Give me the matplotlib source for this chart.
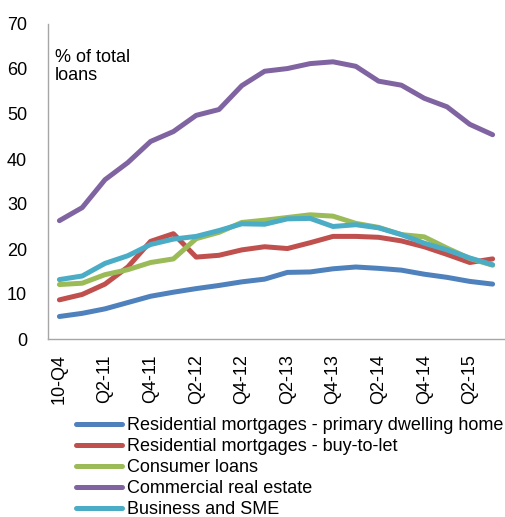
import matplotlib
matplotlib.use("Agg")
import matplotlib.pyplot as plt
import numpy as np

plt.rcParams['font.family'] = ['Liberation Sans', 'DejaVu Sans']

quarters = ["10-Q4", "11-Q1", "Q2-11", "11-Q3", "Q4-11", "12-Q1", "Q2-12", "12-Q3",
            "Q4-12", "13-Q1", "Q2-13", "13-Q3", "Q4-13", "14-Q1", "Q2-14", "14-Q3",
            "Q4-14", "15-Q1", "Q2-15", "15-Q3"]
tick_labels = ["10-Q4", "Q2-11", "Q4-11", "Q2-12", "Q4-12", "Q2-13", "Q4-13", "Q2-14", "Q4-14", "Q2-15"]

primary_dwelling = [5.0, 5.7, 6.7, 8.1, 9.5, 10.4, 11.2, 11.9, 12.7, 13.3,
                    14.8, 14.9, 15.6, 16.0, 15.7, 15.3, 14.4, 13.7, 12.8, 12.2]
buy_to_let = [8.7, 9.9, 12.2, 16.0, 21.7, 23.4, 18.2, 18.6, 19.8, 20.5,
              20.1, 21.4, 22.8, 22.8, 22.6, 21.8, 20.5, 18.8, 17.0, 17.8]
consumer = [12.1, 12.4, 14.3, 15.4, 17.0, 17.8, 22.3, 23.7, 25.9, 26.4,
            27.0, 27.6, 27.3, 25.7, 24.8, 23.2, 22.7, 20.2, 17.9, 16.4]
commercial_re = [26.3, 29.2, 35.4, 39.2, 43.9, 46.1, 49.7, 51.0, 56.3, 59.5,
                 60.1, 61.2, 61.6, 60.6, 57.3, 56.4, 53.5, 51.6, 47.7, 45.4]
business_sme = [13.2, 14.0, 16.8, 18.5, 21.0, 22.2, 22.8, 24.1, 25.6, 25.5,
                26.7, 26.8, 25.0, 25.4, 24.7, 23.2, 21.3, 19.8, 18.0, 16.5]

series = [
    ("Residential mortgages - primary dwelling home", primary_dwelling, "#4F81BD"),
    ("Residential mortgages - buy-to-let", buy_to_let, "#C0504D"),
    ("Consumer loans", consumer, "#9BBB59"),
    ("Commercial real estate", commercial_re, "#8064A2"),
    ("Business and SME", business_sme, "#4BACC6"),
]

FS = 13
W, H = 506, 517
fig = plt.figure(figsize=(W / 100, H / 100), dpi=100)
ax = fig.add_axes([48 / W, 1 - 339 / H, 456 / W, 315 / H])

x = np.arange(len(quarters))
handles = []
for label, vals, color in series:
    h, = ax.plot(x, vals, color=color, lw=3.6, solid_capstyle='round',
                 solid_joinstyle='round', label=label)
    handles.append(h)

ax.set_xlim(-0.5, len(quarters) - 0.5)
ax.set_ylim(0, 70)
ax.set_yticks(np.arange(0, 71, 10))
ax.set_xticks(x[::2])
ax.set_xticklabels(tick_labels, rotation=90)
ax.tick_params(axis='both', length=0, labelsize=FS, colors='#000000')
ax.tick_params(axis='y', pad=15)
ax.tick_params(axis='x', pad=11)
for s in ['top', 'right']:
    ax.spines[s].set_visible(False)
for s in ['left', 'bottom']:
    ax.spines[s].set_color('#A6A6A6')
    ax.spines[s].set_linewidth(1.0)

ax.text(55 / W, 1 - 49 / H, "% of total\nloans", transform=fig.transFigure,
        fontsize=FS, va='top', ha='left', linespacing=1.05)

fig.legend(handles=handles, loc='upper left', bbox_to_anchor=(76 / W, 1 - 417 / H),
           frameon=False, fontsize=FS, handlelength=2.55, handletextpad=0.25,
           labelspacing=0.22, borderaxespad=0, borderpad=0)

fig.savefig("out.png", dpi=100)
